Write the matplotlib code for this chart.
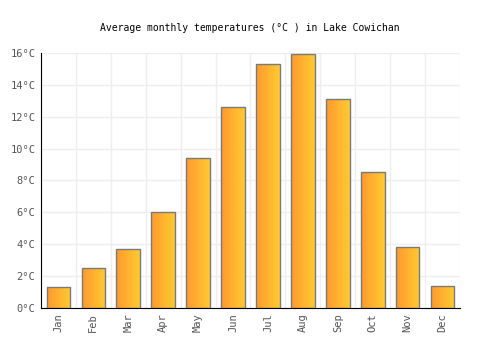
import numpy as np
import matplotlib
matplotlib.use("Agg")
import matplotlib.pyplot as plt
from matplotlib.colors import LinearSegmentedColormap

months = ['Jan', 'Feb', 'Mar', 'Apr', 'May', 'Jun', 'Jul', 'Aug', 'Sep', 'Oct', 'Nov', 'Dec']
temps = [1.3, 2.5, 3.7, 6.0, 9.4, 12.6, 15.3, 15.9, 13.1, 8.5, 3.8, 1.4]
yticks = [0, 2, 4, 6, 8, 10, 12, 14, 16]

plt.rcParams['font.family'] = ['DejaVu Sans Mono']

fig = plt.figure(figsize=(5, 3.5), dpi=100)
ax = fig.add_axes([0.082, 0.12, 0.838, 0.729])

x = np.arange(len(months))
bars = ax.bar(x, temps, width=0.68, color='none', edgecolor='#7a7a7a', linewidth=1.0, zorder=3)

# orange -> yellow horizontal gradient inside each bar
cmap = LinearSegmentedColormap.from_list('og', ['#ff9a2e', '#ffca32'])
grad = np.linspace(0, 1, 64).reshape(1, -1)
for b in bars:
    x0, y0 = b.get_x(), b.get_y()
    w, h = b.get_width(), b.get_height()
    im = ax.imshow(grad, cmap=cmap, extent=[x0, x0 + w, y0, y0 + h],
                   aspect='auto', zorder=2, interpolation='bilinear')
    im.set_clip_path(b)

ax.set_xlim(-0.5, len(months) - 0.5)
ax.set_ylim(0, 16)
ax.set_yticks(yticks)
ax.set_yticklabels([f'{v}°C' for v in yticks])
ax.set_xticks(x)
ax.set_xticklabels(months, rotation=90)
ax.set_xticks(np.arange(-0.5, len(months)), minor=True)
ax.tick_params(axis='x', which='minor', length=0)
ax.tick_params(axis='both', which='major', length=0, labelsize=7.5, labelcolor='#555555', pad=4)

ax.grid(True, axis='y', color='#eeeeee', linewidth=1, zorder=0)
ax.grid(True, axis='x', which='minor', color='#eeeeee', linewidth=1, zorder=0)
for s in ['top', 'right']:
    ax.spines[s].set_visible(False)
ax.spines['left'].set_color('black')
ax.spines['bottom'].set_color('black')
ax.set_axisbelow(True)

fig.suptitle('Average monthly temperatures (°C ) in Lake Cowichan', y=0.935, fontsize=7)

fig.savefig('out.png', dpi=100)
